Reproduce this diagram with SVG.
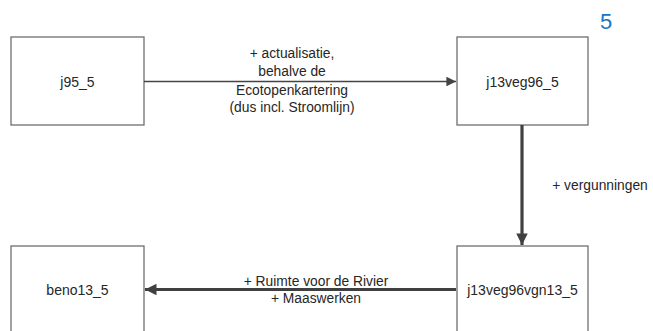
<svg xmlns="http://www.w3.org/2000/svg" width="653" height="331" viewBox="0 0 653 331">
<style>
.box{fill:#fff;stroke:#6f6f6f;stroke-width:1.3}
.nt{font-family:"Liberation Sans",Arial,sans-serif;font-size:14px;fill:#262626;text-anchor:middle}
.et{font-family:"Liberation Sans",Arial,sans-serif;font-size:13.8px;fill:#262626;text-anchor:middle}
.thin{stroke:#444;stroke-width:1.6;fill:none}
.thick{stroke:#404040;stroke-width:3.2;fill:none}
</style>
<defs>
<marker id="ah" viewBox="0 0 10 10" refX="10" refY="5" markerWidth="6.5" markerHeight="6" orient="auto" markerUnits="strokeWidth">
<path d="M0,0 L10,5 L0,10 z" fill="#444"/>
</marker>
<marker id="ahb" viewBox="0 0 10 10" refX="10" refY="5" markerWidth="4" markerHeight="3.6" orient="auto" markerUnits="strokeWidth">
<path d="M0,0 L10,5 L0,10 z" fill="#404040"/>
</marker>
</defs>
<text x="606" y="29" style="font-family:'Liberation Sans',Arial,sans-serif;font-size:22px;fill:#1a74c4" text-anchor="middle">5</text>
<g id="j95_5">
<rect class="box" x="11" y="37" width="133" height="88"/>
<text class="nt" x="77.5" y="86.5">j95_5</text>
</g>
<g id="j13veg96_5">
<rect class="box" x="457" y="37" width="131" height="88"/>
<text class="nt" x="522.5" y="86.5">j13veg96_5</text>
</g>
<g id="beno13_5">
<rect class="box" x="11" y="246" width="133" height="95"/>
<text class="nt" x="77.5" y="295">beno13_5</text>
</g>
<g id="j13veg96vgn13_5">
<rect class="box" x="457" y="246" width="131" height="95"/>
<text class="nt" x="522.5" y="295">j13veg96vgn13_5</text>
</g>
<g id="connectors">
<line class="thin" x1="144" y1="81.5" x2="456" y2="81.5" marker-end="url(#ah)"/>
<line class="thick" x1="522" y1="125" x2="522" y2="245" marker-end="url(#ahb)"/>
<line class="thick" x1="456" y1="289.5" x2="145" y2="289.5" marker-end="url(#ahb)"/>
<text class="et" x="292" y="57.5">+ actualisatie,</text>
<text class="et" x="292" y="76">behalve de</text>
<text class="et" x="292" y="95">Ecotopenkartering</text>
<text class="et" x="292" y="111.5">(dus incl. Stroomlijn)</text>
<text class="et" x="600" y="190">+ vergunningen</text>
<text class="et" x="316" y="286">+ Ruimte voor de Rivier</text>
<text class="et" x="316" y="303">+ Maaswerken</text>
</g>
</svg>
